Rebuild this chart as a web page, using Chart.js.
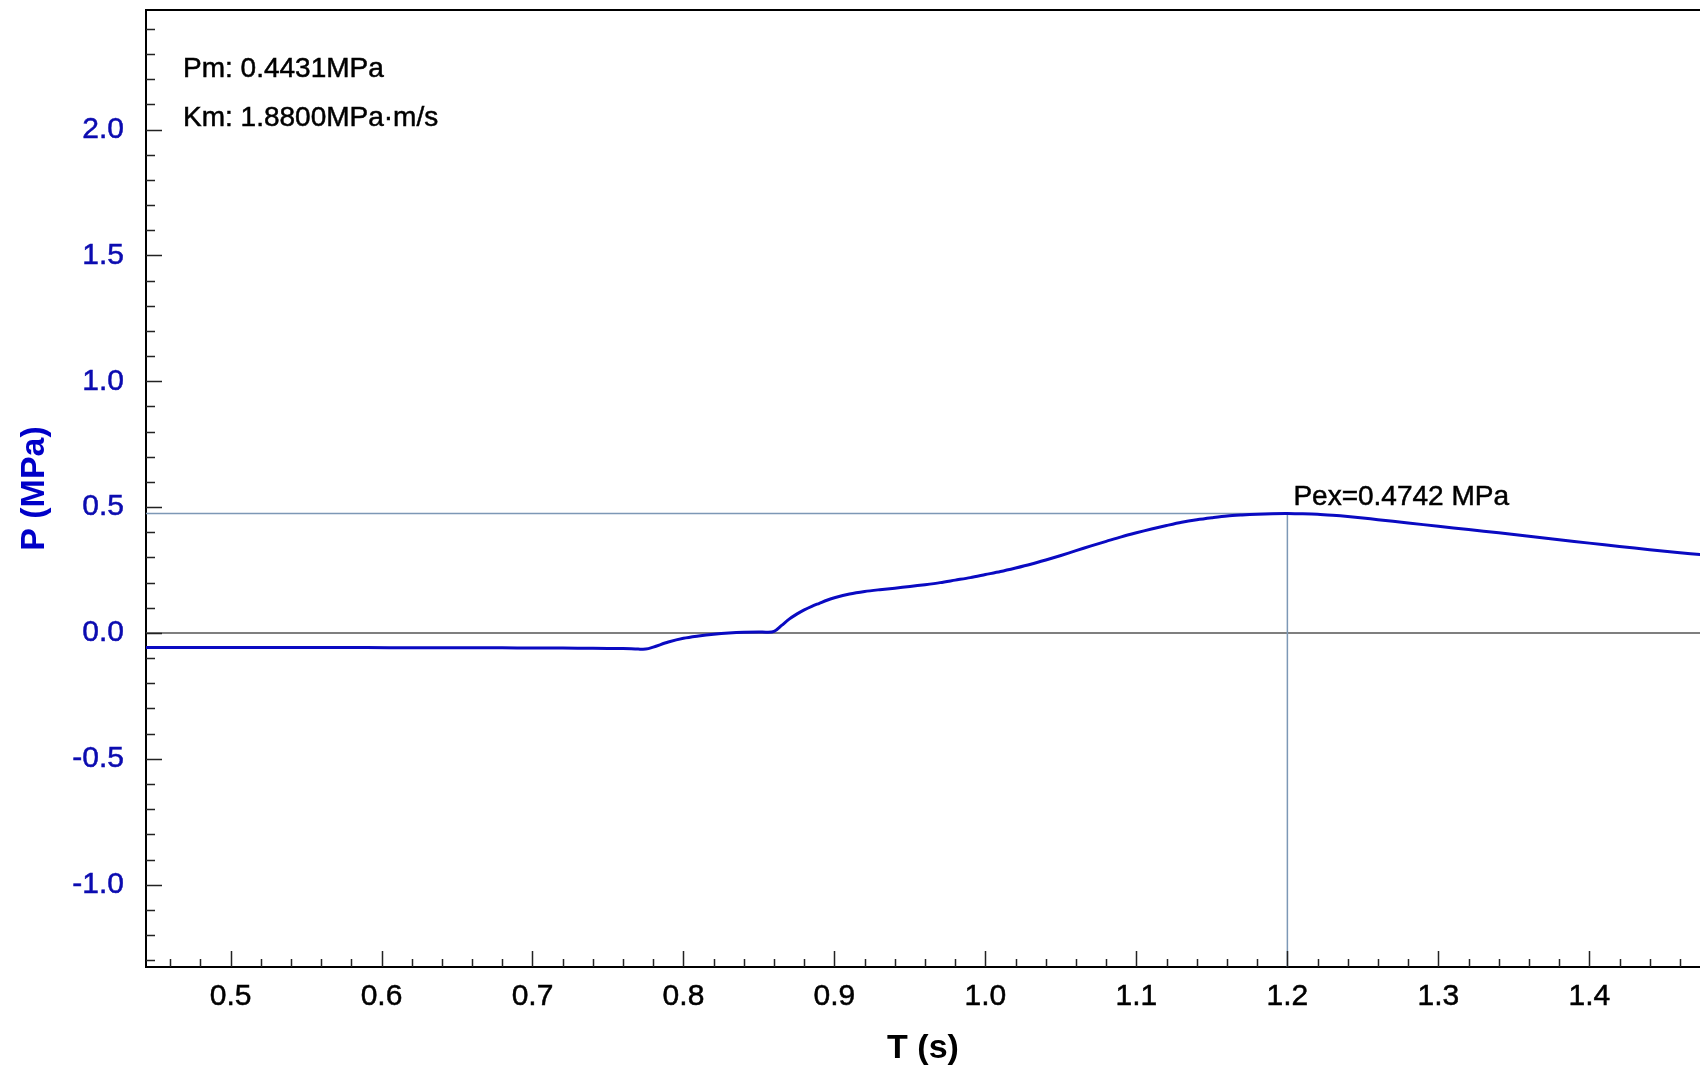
<!DOCTYPE html>
<html>
<head>
<meta charset="utf-8">
<title>P (MPa) vs T (s)</title>
<script src="https://cdn.jsdelivr.net/npm/chart.js@4/dist/chart.umd.min.js"></script>
<style>
  html, body { margin: 0; padding: 0; background: #ffffff; }
  #wrap { width: 1700px; height: 1072px; position: relative; }
</style>
</head>
<body>
<div id="wrap"><canvas id="c" width="1700" height="1072"></canvas></div>
<script>
// Pressure trace: time (s) and pressure (MPa)
const timeS = [
  0.444, 0.47, 0.50, 0.53, 0.56, 0.59, 0.62, 0.65, 0.68, 0.70, 0.72, 0.74, 0.76, 0.77, 0.775,
  0.78, 0.79, 0.80, 0.81, 0.82, 0.83, 0.84, 0.85, 0.855, 0.86, 0.865, 0.87, 0.875, 0.88,
  0.885, 0.89, 0.895, 0.90, 0.91, 0.92, 0.93, 0.94, 0.95, 0.96, 0.97, 0.98, 0.99, 1.00,
  1.01, 1.02, 1.03, 1.04, 1.05, 1.06, 1.07, 1.08, 1.09, 1.10, 1.11, 1.12, 1.13, 1.14,
  1.15, 1.16, 1.17, 1.18, 1.19, 1.20, 1.21, 1.22, 1.23, 1.24, 1.25, 1.26, 1.28, 1.30,
  1.32, 1.34, 1.36, 1.38, 1.40, 1.42, 1.44, 1.46, 1.474
];
const pressureMPa = [
  -0.058, -0.058, -0.058, -0.058, -0.058, -0.058, -0.059, -0.059, -0.059, -0.060, -0.060, -0.061, -0.062, -0.064, -0.064,
  -0.056, -0.036, -0.021, -0.012, -0.005, 0.000, 0.003, 0.004, 0.003, 0.006, 0.030, 0.055, 0.075, 0.092,
  0.106, 0.118, 0.130, 0.140, 0.155, 0.165, 0.172, 0.178, 0.185, 0.192, 0.200, 0.210, 0.220, 0.232,
  0.244, 0.258, 0.273, 0.290, 0.308, 0.327, 0.346, 0.364, 0.382, 0.398, 0.413, 0.427, 0.440, 0.450,
  0.458, 0.465, 0.469, 0.472, 0.4738, 0.4742, 0.4736, 0.472, 0.468, 0.463, 0.457, 0.450, 0.437, 0.424,
  0.411, 0.398, 0.384, 0.370, 0.357, 0.344, 0.331, 0.319, 0.311
];

// Axis ticks (labelled)
const xTickLabels = ['0.5', '0.6', '0.7', '0.8', '0.9', '1.0', '1.1', '1.2', '1.3', '1.4'];
const yTickLabels = ['-1.0', '-0.5', '0.0', '0.5', '1.0', '1.5', '2.0'];

// Peak marker and summary values
const peakT = 1.2;
const peakP = 0.4742;
const summaryLines = ['Pm: 0.4431MPa', 'Km: 1.8800MPa\u00b7m/s'];

const X_MIN = 0.444, X_MAX = 1.4733;
const Y_MIN = -1.327, Y_MAX = 2.475;

const FONT = '"Liberation Sans", Arial, Helvetica, sans-serif';
const TRACE_BLUE = '#0a0ac2';
const LABEL_BLUE = '#0b0bb0';
const REF_LINE = '#7d98b6';

const decor = {
  id: 'decor',
  beforeDatasetsDraw(chart) {
    const {ctx, chartArea: a, scales: {x, y}} = chart;
    ctx.save();
    // zero line
    const y0 = y.getPixelForValue(0);
    ctx.strokeStyle = '#555555';
    ctx.lineWidth = 1.5;
    ctx.beginPath();
    ctx.moveTo(a.left, y0);
    ctx.lineTo(a.right, y0);
    ctx.stroke();
    // peak crosshair
    const px = x.getPixelForValue(peakT);
    const py = y.getPixelForValue(peakP);
    ctx.strokeStyle = REF_LINE;
    ctx.lineWidth = 1.5;
    ctx.beginPath();
    ctx.moveTo(a.left, py);
    ctx.lineTo(px, py);
    ctx.moveTo(px, py);
    ctx.lineTo(px, a.bottom);
    ctx.stroke();
    ctx.restore();
  },
  afterDatasetsDraw(chart) {
    const {ctx, chartArea: a, scales: {x, y}} = chart;
    ctx.save();
    // top frame line
    ctx.strokeStyle = '#000000';
    ctx.lineWidth = 2;
    ctx.beginPath();
    ctx.moveTo(a.left - 1, a.top);
    ctx.lineTo(a.right, a.top);
    ctx.stroke();

    // inward tick marks
    ctx.strokeStyle = '#222222';
    ctx.lineWidth = 1.5;
    ctx.beginPath();
    for (let i = -13; i <= 24; i++) {
      const v = i / 10;
      const p = Math.round(y.getPixelForValue(v)) + 0.5;
      const len = (i % 5 === 0) ? 16 : 9;
      ctx.moveTo(a.left, p);
      ctx.lineTo(a.left + len, p);
    }
    for (let i = 23; i <= 73; i++) {
      const v = i / 50;
      const p = Math.round(x.getPixelForValue(v)) + 0.5;
      const len = (i % 5 === 0) ? 16 : 8;
      ctx.moveTo(p, a.bottom);
      ctx.lineTo(p, a.bottom - len);
    }
    ctx.stroke();

    // summary text
    ctx.fillStyle = '#000000';
    ctx.strokeStyle = '#000000';
    ctx.lineWidth = 0.5;
    ctx.font = '28px ' + FONT;
    ctx.textAlign = 'left';
    ctx.textBaseline = 'alphabetic';
    const put = (t, tx, ty) => { ctx.fillText(t, tx, ty); ctx.strokeText(t, tx, ty); };
    put(summaryLines[0], a.left + 37, a.top + 67);
    put(summaryLines[1], a.left + 37, a.top + 116);

    // peak label
    const px = x.getPixelForValue(peakT);
    const py = y.getPixelForValue(peakP);
    put('Pex=' + peakP.toFixed(4) + ' MPa', px + 6, py - 9);
    ctx.restore();
  }
};

new Chart(document.getElementById('c'), {
  type: 'scatter',
  data: {
    datasets: [{
      data: timeS.map((t, i) => ({x: t, y: pressureMPa[i]})),
      showLine: true,
      borderColor: TRACE_BLUE,
      borderWidth: 3,
      pointRadius: 0,
      tension: 0.3,
      fill: false
    }]
  },
  options: {
    responsive: false,
    animation: false,
    devicePixelRatio: 1,
    layout: {padding: {top: 10, left: 0, right: 0, bottom: 0}},
    plugins: {legend: {display: false}, tooltip: {enabled: false}},
    scales: {
      x: {
        type: 'linear',
        min: X_MIN,
        max: X_MAX,
        afterBuildTicks: s => { s.ticks = xTickLabels.map(l => ({value: parseFloat(l)})); },
        afterFit: s => { s.height = 105; s.paddingLeft = 0; s.paddingRight = 0; },
        grid: {display: false, drawTicks: false},
        border: {display: true, color: '#000000', width: 2},
        ticks: {
          padding: 12,
          color: '#000000',
          textStrokeColor: '#000000',
          textStrokeWidth: 0.5,
          font: {family: FONT, size: 30},
          maxRotation: 0,
          autoSkip: false,
          callback: v => v.toFixed(1)
        },
        title: {
          display: true,
          text: 'T (s)',
          color: '#000000',
          font: {family: FONT, size: 34, weight: 'bold', lineHeight: 1},
          padding: {top: 0, bottom: 6}
        }
      },
      y: {
        type: 'linear',
        min: Y_MIN,
        max: Y_MAX,
        afterBuildTicks: s => { s.ticks = yTickLabels.map(l => ({value: parseFloat(l)})); },
        afterFit: s => { s.width = 146; s.paddingTop = 0; s.paddingBottom = 0; },
        grid: {display: false, drawTicks: false},
        border: {display: true, color: '#000000', width: 2},
        ticks: {
          padding: 22,
          color: LABEL_BLUE,
          textStrokeColor: LABEL_BLUE,
          textStrokeWidth: 0.5,
          font: {family: FONT, size: 30},
          autoSkip: false,
          callback: v => v.toFixed(1)
        },
        title: {
          display: true,
          text: 'P (MPa)',
          color: '#0000c8',
          font: {family: FONT, size: 34, weight: 'bold', lineHeight: 1},
          padding: {top: 18, bottom: 0}
        }
      }
    }
  },
  plugins: [decor]
});
</script>
</body>
</html>
